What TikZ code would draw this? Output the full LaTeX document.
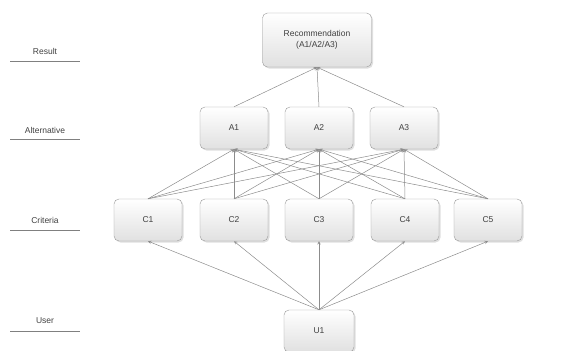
\documentclass[tikz,border=0pt]{standalone}
\usepackage{fontspec}
\setmainfont{Liberation Sans}
\usepackage{tikz}
\usetikzlibrary{shadows}
\newcommand{\boxcol}{black!40}
\newcommand{\linecol}{black!45}
\tikzset{
  box/.style={draw=\boxcol, rounded corners=5pt, top color=white, bottom color=black!12,
    drop shadow={shadow xshift=1.5pt, shadow yshift=-1.5pt, opacity=0.25},
    minimum width=68pt, minimum height=42pt, align=center, font=\fontsize{8.5}{10.5}\selectfont, text=black!75},
  link/.style={draw=\linecol, line width=0.5pt, ->, >=stealth},
  level/.style={font=\fontsize{8.5}{10.5}\selectfont, text=black!75},
  rule/.style={draw=black!50, line width=0.8pt}
}

\begin{document}
\begin{tikzpicture}[x=1pt, y=-1pt]
    \useasboundingbox (0, 0) rectangle (563, 351);

    % niveaux
    \node[level] (lres) at (45, 51) {Result};
    \node[level] (lalt) at (45, 130) {Alternative};
    \node[level] (lcri) at (45, 220) {Criteria};
    \node[level] (lusr) at (45, 321) {User};
    \draw[rule] (10, 61) -- (80, 61);
    \draw[rule] (10, 139) -- (80, 139);
    \draw[rule] (10, 230) -- (80, 230);
    \draw[rule] (10, 331) -- (80, 331);

    \node[box, minimum width=109pt, minimum height=54pt] (rec) at (317, 40) {Recommendation\\(A1/A2/A3)};

    \node[box] (a1) at (234, 128) {A1};
    \node[box] (a2) at (319, 128) {A2};
    \node[box] (a3) at (404, 128) {A3};

    \node[box] (c1) at (148, 220) {C1};
    \node[box] (c2) at (234, 220) {C2};
    \node[box] (c3) at (319, 220) {C3};
    \node[box] (c4) at (405, 220) {C4};
    \node[box] (c5) at (488, 220) {C5};

    \node[box, minimum width=70pt] (u1) at (319, 331) {U1};

    % alternatives vers recommandation
    \draw[link] (a1.north) -- (rec.south);
    \draw[link] (a2.north) -- (rec.south);
    \draw[link] (a3.north) -- (rec.south);

    % criteres vers alternatives
    \draw[link] (c1.north) -- (a1.south);
    \draw[link] (c1.north) -- (a2.south);
    \draw[link] (c1.north) -- (a3.south);
    \draw[link] (c2.north) -- (a1.south);
    \draw[link] (c2.north) -- (a2.south);
    \draw[link] (c2.north) -- (a3.south);
    \draw[link] (c3.north) -- (a1.south);
    \draw[link] (c3.north) -- (a2.south);
    \draw[link] (c3.north) -- (a3.south);
    \draw[link] (c4.north) -- (a1.south);
    \draw[link] (c4.north) -- (a2.south);
    \draw[link] (c4.north) -- (a3.south);
    \draw[link] (c5.north) -- (a1.south);
    \draw[link] (c5.north) -- (a2.south);
    \draw[link] (c5.north) -- (a3.south);

    % utilisateur vers criteres
    \draw[link] (u1.north) -- (c1.south);
    \draw[link] (u1.north) -- (c2.south);
    \draw[link] (u1.north) -- (c3.south);
    \draw[link] (u1.north) -- (c4.south);
    \draw[link] (u1.north) -- (c5.south);

\end{tikzpicture}
\end{document}
